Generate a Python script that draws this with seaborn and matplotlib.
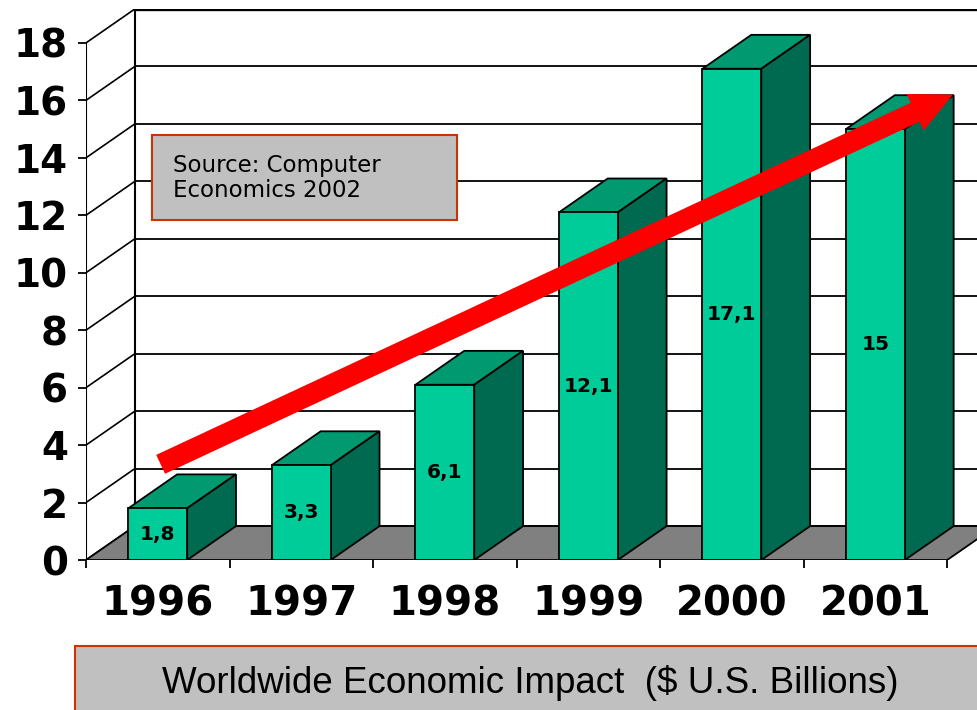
import matplotlib
matplotlib.use("Agg")
import matplotlib.pyplot as plt
import seaborn as sns
from matplotlib.patches import Polygon, Rectangle

# data
years = ["1996", "1997", "1998", "1999", "2000", "2001"]
impact = [1.8, 3.3, 6.1, 12.1, 17.1, 15.0]
bar_labels = ["1,8", "3,3", "6,1", "12,1", "17,1", "15"]
y_ticks = [0, 2, 4, 6, 8, 10, 12, 14, 16, 18]

source_text = "Source: Computer\nEconomics 2002"
caption = "Worldwide Economic Impact  ($ U.S. Billions)"

# fake 3d depth (in data units) and trend arrow (annotation)
DX, DY = 0.34, 1.18
ARROW_START = (0.02, 3.33)
ARROW_END = (5.54, 16.2)

FRONT = "#00CC99"
TOP = "#009970"
SIDE = "#006A50"
BOX_EDGE = "#CC3300"

W, H = 978, 710
fig = plt.figure(figsize=(W / 100, H / 100), dpi=100)
ax = fig.add_axes([86 / W, (H - 560) / H, (996 - 86) / W, (560 - 9) / H])

ymax = y_ticks[-1]
x0, x1 = -0.5, len(years) - 0.5

# back wall grid + diagonals from the front axis
for v in y_ticks:
    lw = 2.4 if v == ymax else 1.3
    ax.plot([x0 + DX, x1 + DX], [v + DY, v + DY], color="black", lw=lw, zorder=1)
    ax.plot([x0, x0 + DX], [v, v + DY], color="black", lw=1.2, zorder=1)
ax.plot([x0 + DX, x0 + DX], [DY, ymax + DY], color="black", lw=1.5, zorder=1)
ax.plot([x0, x0], [0, ymax], color="black", lw=1.5, zorder=1)

# floor
ax.add_patch(Polygon([(x0, 0), (x1, 0), (x1 + DX, DY), (x0 + DX, DY)],
                     closed=True, facecolor="#808080", edgecolor="black",
                     lw=1.3, zorder=2))

# front faces with seaborn
sns.barplot(x=years, y=impact, width=0.41, color=FRONT, saturation=1,
            edgecolor="black", linewidth=1.3, ax=ax, zorder=4)

for p, lab in zip(ax.patches[1:], bar_labels):
    bx, bw, bh = p.get_x(), p.get_width(), p.get_height()
    top = [(bx, bh), (bx + bw, bh), (bx + bw + DX, bh + DY), (bx + DX, bh + DY)]
    side = [(bx + bw, 0), (bx + bw + DX, DY), (bx + bw + DX, bh + DY), (bx + bw, bh)]
    ax.add_patch(Polygon(top, closed=True, facecolor=TOP, edgecolor="black", lw=1.3, zorder=3))
    ax.add_patch(Polygon(side, closed=True, facecolor=SIDE, edgecolor="black", lw=1.3, zorder=3))
    ax.text(bx + bw / 2, bh / 2, lab, ha="center", va="center",
            fontsize=14.5, fontweight="bold", zorder=6)

# trend arrow
ax.annotate("", xy=ARROW_END, xytext=ARROW_START,
            arrowprops=dict(arrowstyle="simple,head_length=30,head_width=29,tail_width=15",
                            mutation_scale=1, color="red", lw=0,
                            shrinkA=0, shrinkB=0), zorder=7)

ax.set_xlim(x0, x1 + DX)
ax.set_ylim(0, ymax + DY)
for s in ax.spines.values():
    s.set_visible(False)

ax.set_yticks(y_ticks)
ax.set_yticklabels([str(v) for v in y_ticks], fontsize=28, fontweight="bold")
ax.tick_params(axis="y", direction="out", length=6, width=1.3, pad=7)

ax.set_xticks(range(len(years)))
ax.set_xticklabels(years, fontsize=29, fontweight="bold")
ax.set_xticks([i - 0.5 for i in range(len(years) + 1)], minor=True)
ax.tick_params(axis="x", which="major", length=0, pad=18)
ax.tick_params(axis="x", which="minor", direction="out", length=6, width=1.3)
ax.set_xlabel("")
ax.set_ylabel("")

# source box
fig.patches.append(Rectangle((152 / W, 1 - 220 / H), (457 - 152) / W, 85 / H,
                             transform=fig.transFigure, facecolor="#C0C0C0",
                             edgecolor=BOX_EDGE, lw=1.5, zorder=5))
fig.text(173 / W, 1 - 178 / H, source_text, fontsize=16.5, va="center", ha="left",
         linespacing=1.1, zorder=6)

# caption box
fig.patches.append(Rectangle((75 / W, -0.05), 1.0, 1 - 646 / H + 0.05,
                             transform=fig.transFigure, facecolor="#C0C0C0",
                             edgecolor=BOX_EDGE, lw=1.5, zorder=5))
fig.text(530 / W, 1 - 683 / H, caption, fontsize=26.5, family="Liberation Sans",
         ha="center", va="center", zorder=6)

fig.savefig("out.png", dpi=100)
